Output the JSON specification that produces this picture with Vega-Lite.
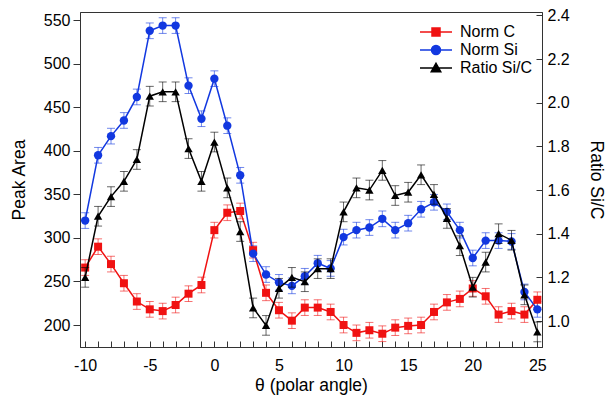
{
  "$schema": "https://vega.github.io/schema/vega-lite/v6.json",
  "width": 462,
  "height": 335,
  "autosize": {"type": "none"},
  "padding": {"left": 80, "top": 12, "right": 64, "bottom": 56},
  "background": "white",
  "config": {
    "view": {"stroke": "#333", "strokeWidth": 1},
    "font": "Liberation Sans",
    "axis": {
      "grid": false,
      "domainColor": "#333",
      "tickColor": "#333",
      "labelFont": "Liberation Sans",
      "labelFontSize": 16,
      "labelColor": "#000",
      "titleFont": "Liberation Sans",
      "titleFontSize": 17.5,
      "titleFontWeight": "normal",
      "titleColor": "#000"
    }
  },
  "datasets": {
    "d": [
      {"theta": -10, "series": "Norm C", "value": 266, "err": 9},
      {"theta": -9, "series": "Norm C", "value": 290, "err": 9},
      {"theta": -8, "series": "Norm C", "value": 270, "err": 9},
      {"theta": -7, "series": "Norm C", "value": 248, "err": 9},
      {"theta": -6, "series": "Norm C", "value": 227, "err": 9},
      {"theta": -5, "series": "Norm C", "value": 218, "err": 9},
      {"theta": -4, "series": "Norm C", "value": 216, "err": 9},
      {"theta": -3, "series": "Norm C", "value": 223, "err": 9},
      {"theta": -2, "series": "Norm C", "value": 236, "err": 9},
      {"theta": -1, "series": "Norm C", "value": 246, "err": 9},
      {"theta": 0, "series": "Norm C", "value": 309, "err": 9},
      {"theta": 1, "series": "Norm C", "value": 329, "err": 9},
      {"theta": 2, "series": "Norm C", "value": 331, "err": 9},
      {"theta": 3, "series": "Norm C", "value": 286, "err": 9},
      {"theta": 4, "series": "Norm C", "value": 237, "err": 9},
      {"theta": 5, "series": "Norm C", "value": 217, "err": 9},
      {"theta": 6, "series": "Norm C", "value": 205, "err": 9},
      {"theta": 7, "series": "Norm C", "value": 220, "err": 9},
      {"theta": 8, "series": "Norm C", "value": 220, "err": 9},
      {"theta": 9, "series": "Norm C", "value": 215, "err": 9},
      {"theta": 10, "series": "Norm C", "value": 200, "err": 9},
      {"theta": 11, "series": "Norm C", "value": 191, "err": 9},
      {"theta": 12, "series": "Norm C", "value": 194, "err": 9},
      {"theta": 13, "series": "Norm C", "value": 190, "err": 9},
      {"theta": 14, "series": "Norm C", "value": 197, "err": 9},
      {"theta": 15, "series": "Norm C", "value": 199, "err": 9},
      {"theta": 16, "series": "Norm C", "value": 200, "err": 9},
      {"theta": 17, "series": "Norm C", "value": 215, "err": 9},
      {"theta": 18, "series": "Norm C", "value": 226, "err": 9},
      {"theta": 19, "series": "Norm C", "value": 230, "err": 9},
      {"theta": 20, "series": "Norm C", "value": 242, "err": 9},
      {"theta": 21, "series": "Norm C", "value": 233, "err": 9},
      {"theta": 22, "series": "Norm C", "value": 212, "err": 9},
      {"theta": 23, "series": "Norm C", "value": 216, "err": 9},
      {"theta": 24, "series": "Norm C", "value": 212, "err": 9},
      {"theta": 25, "series": "Norm C", "value": 229, "err": 9},
      {"theta": -10, "series": "Norm Si", "value": 320, "err": 9},
      {"theta": -9, "series": "Norm Si", "value": 395, "err": 9},
      {"theta": -8, "series": "Norm Si", "value": 417, "err": 9},
      {"theta": -7, "series": "Norm Si", "value": 435, "err": 9},
      {"theta": -6, "series": "Norm Si", "value": 462, "err": 9},
      {"theta": -5, "series": "Norm Si", "value": 538, "err": 9},
      {"theta": -4, "series": "Norm Si", "value": 544, "err": 9},
      {"theta": -3, "series": "Norm Si", "value": 544, "err": 9},
      {"theta": -2, "series": "Norm Si", "value": 475, "err": 9},
      {"theta": -1, "series": "Norm Si", "value": 437, "err": 9},
      {"theta": 0, "series": "Norm Si", "value": 483, "err": 9},
      {"theta": 1, "series": "Norm Si", "value": 429, "err": 9},
      {"theta": 2, "series": "Norm Si", "value": 372, "err": 9},
      {"theta": 3, "series": "Norm Si", "value": 282, "err": 9},
      {"theta": 4, "series": "Norm Si", "value": 258, "err": 9},
      {"theta": 5, "series": "Norm Si", "value": 249, "err": 9},
      {"theta": 6, "series": "Norm Si", "value": 245, "err": 9},
      {"theta": 7, "series": "Norm Si", "value": 256, "err": 9},
      {"theta": 8, "series": "Norm Si", "value": 271, "err": 9},
      {"theta": 9, "series": "Norm Si", "value": 265, "err": 9},
      {"theta": 10, "series": "Norm Si", "value": 301, "err": 9},
      {"theta": 11, "series": "Norm Si", "value": 309, "err": 9},
      {"theta": 12, "series": "Norm Si", "value": 312, "err": 9},
      {"theta": 13, "series": "Norm Si", "value": 322, "err": 9},
      {"theta": 14, "series": "Norm Si", "value": 309, "err": 9},
      {"theta": 15, "series": "Norm Si", "value": 317, "err": 9},
      {"theta": 16, "series": "Norm Si", "value": 333, "err": 9},
      {"theta": 17, "series": "Norm Si", "value": 341, "err": 9},
      {"theta": 18, "series": "Norm Si", "value": 330, "err": 9},
      {"theta": 19, "series": "Norm Si", "value": 309, "err": 9},
      {"theta": 20, "series": "Norm Si", "value": 277, "err": 9},
      {"theta": 21, "series": "Norm Si", "value": 297, "err": 9},
      {"theta": 22, "series": "Norm Si", "value": 297, "err": 9},
      {"theta": 23, "series": "Norm Si", "value": 296, "err": 9},
      {"theta": 24, "series": "Norm Si", "value": 238, "err": 9},
      {"theta": 25, "series": "Norm Si", "value": 218, "err": 9},
      {"theta": -10, "series": "Ratio Si/C", "value": 1.2, "err": 0.045},
      {"theta": -9, "series": "Ratio Si/C", "value": 1.48, "err": 0.045},
      {"theta": -8, "series": "Ratio Si/C", "value": 1.57, "err": 0.045},
      {"theta": -7, "series": "Ratio Si/C", "value": 1.64, "err": 0.045},
      {"theta": -6, "series": "Ratio Si/C", "value": 1.74, "err": 0.045},
      {"theta": -5, "series": "Ratio Si/C", "value": 2.03, "err": 0.045},
      {"theta": -4, "series": "Ratio Si/C", "value": 2.05, "err": 0.045},
      {"theta": -3, "series": "Ratio Si/C", "value": 2.05, "err": 0.045},
      {"theta": -2, "series": "Ratio Si/C", "value": 1.79, "err": 0.045},
      {"theta": -1, "series": "Ratio Si/C", "value": 1.64, "err": 0.045},
      {"theta": 0, "series": "Ratio Si/C", "value": 1.82, "err": 0.045},
      {"theta": 1, "series": "Ratio Si/C", "value": 1.61, "err": 0.045},
      {"theta": 2, "series": "Ratio Si/C", "value": 1.41, "err": 0.045},
      {"theta": 3, "series": "Ratio Si/C", "value": 1.06, "err": 0.045},
      {"theta": 4, "series": "Ratio Si/C", "value": 0.98, "err": 0.045},
      {"theta": 5, "series": "Ratio Si/C", "value": 1.15, "err": 0.045},
      {"theta": 6, "series": "Ratio Si/C", "value": 1.2, "err": 0.045},
      {"theta": 7, "series": "Ratio Si/C", "value": 1.18, "err": 0.045},
      {"theta": 8, "series": "Ratio Si/C", "value": 1.24, "err": 0.045},
      {"theta": 9, "series": "Ratio Si/C", "value": 1.24, "err": 0.045},
      {"theta": 10, "series": "Ratio Si/C", "value": 1.5, "err": 0.045},
      {"theta": 11, "series": "Ratio Si/C", "value": 1.61, "err": 0.045},
      {"theta": 12, "series": "Ratio Si/C", "value": 1.6, "err": 0.045},
      {"theta": 13, "series": "Ratio Si/C", "value": 1.69, "err": 0.045},
      {"theta": 14, "series": "Ratio Si/C", "value": 1.575, "err": 0.045},
      {"theta": 15, "series": "Ratio Si/C", "value": 1.59, "err": 0.045},
      {"theta": 16, "series": "Ratio Si/C", "value": 1.67, "err": 0.045},
      {"theta": 17, "series": "Ratio Si/C", "value": 1.58, "err": 0.045},
      {"theta": 18, "series": "Ratio Si/C", "value": 1.47, "err": 0.045},
      {"theta": 19, "series": "Ratio Si/C", "value": 1.345, "err": 0.045},
      {"theta": 20, "series": "Ratio Si/C", "value": 1.155, "err": 0.045},
      {"theta": 21, "series": "Ratio Si/C", "value": 1.27, "err": 0.045},
      {"theta": 22, "series": "Ratio Si/C", "value": 1.4, "err": 0.045},
      {"theta": 23, "series": "Ratio Si/C", "value": 1.37, "err": 0.045},
      {"theta": 24, "series": "Ratio Si/C", "value": 1.12, "err": 0.045},
      {"theta": 25, "series": "Ratio Si/C", "value": 0.95, "err": 0.045}
    ]
  },
  "data": {"name": "d"},
  "encoding": {
    "x": {
      "field": "theta",
      "type": "quantitative",
      "scale": {"domain": [-10.4, 25.36], "nice": false, "zero": false},
      "axis": {
        "title": "θ (polar angle)",
        "values": [-10, -9, -8, -7, -6, -5, -4, -3, -2, -1, 0, 1, 2, 3, 4, 5, 6, 7, 8, 9, 10, 11, 12, 13, 14, 15, 16, 17, 18, 19, 20, 21, 22, 23, 24, 25],
        "labelExpr": "datum.value % 5 === 0 ? '' + datum.value : ''",
        "tickSize": -6,
        "labelPadding": 16,
        "titlePadding": 3,
        "labelFlush": false
      }
    },
    "color": {
      "field": "series",
      "type": "nominal",
      "scale": {"domain": ["Norm C", "Norm Si", "Ratio Si/C"], "range": ["#f01212", "#1238e0", "#000000"]},
      "legend": {
        "title": null,
        "orient": "none",
        "legendX": 348,
        "legendY": 12,
        "padding": 0,
        "labelFontSize": 16,
        "labelFont": "Liberation Sans",
        "labelColor": "#000",
        "symbolSize": 100,
        "labelOffset": 16,
        "rowPadding": 2,
        "encode": {
          "symbols": {
            "update": {
              "shape": {"signal": "datum.value === 'Norm C' ? 'M-3.2,0H3.2M-0.8,-0.8H0.8V0.8H-0.8Z' : datum.value === 'Norm Si' ? 'M-3.2,0H3.2M0.9,0A0.9,0.9,0,1,1,-0.9,0A0.9,0.9,0,1,1,0.9,0Z' : 'M-3.2,0H3.2M0,-0.95L0.95,0.75H-0.95Z'"},
              "stroke": {"signal": "scale('color', datum.value)"},
              "fill": {"signal": "scale('color', datum.value)"},
              "strokeWidth": {"value": 1.5},
              "opacity": {"value": 1}
            }
          }
        }
      }
    }
  },
  "layer": [
    {
      "transform": [{"filter": "datum.series !== 'Ratio Si/C'"}],
      "encoding": {
        "y": {
          "field": "value",
          "type": "quantitative",
          "scale": {"domain": [174.75, 559.6], "nice": false, "zero": false},
          "axis": {"title": "Peak Area", "orient": "left", "values": [200, 250, 300, 350, 400, 450, 500, 550], "tickSize": 7, "labelPadding": 3, "titlePadding": 15}
        }
      },
      "layer": [
        {
          "mark": {"type": "errorbar", "ticks": {"size": 8, "opacity": 0.6}, "rule": {"opacity": 0.6}},
          "encoding": {"yError": {"field": "err"}}
        },
        {"mark": {"type": "line", "strokeWidth": 1.5}},
        {
          "transform": [{"filter": "datum.series === 'Norm C'"}],
          "mark": {"type": "point", "shape": "square", "filled": true, "size": 64, "opacity": 1}
        },
        {
          "transform": [{"filter": "datum.series === 'Norm Si'"}],
          "mark": {"type": "point", "shape": "circle", "filled": true, "size": 70, "opacity": 1}
        }
      ]
    },
    {
      "transform": [{"filter": "datum.series === 'Ratio Si/C'"}],
      "encoding": {
        "y": {
          "field": "value",
          "type": "quantitative",
          "scale": {"domain": [0.881, 2.4156], "nice": false, "zero": false},
          "axis": {"title": "Ratio Si/C", "orient": "right", "values": [1.0, 1.2, 1.4, 1.6, 1.8, 2.0, 2.2, 2.4], "format": ".1f", "tickSize": -6, "labelPadding": 11, "titlePadding": 17}
        }
      },
      "layer": [
        {
          "mark": {"type": "errorbar", "ticks": {"size": 8, "opacity": 0.6}, "rule": {"opacity": 0.6}},
          "encoding": {"yError": {"field": "err"}}
        },
        {"mark": {"type": "line", "strokeWidth": 1.5}},
        {"mark": {"type": "point", "shape": "triangle-up", "filled": true, "size": 70, "opacity": 1}}
      ]
    }
  ],
  "resolve": {"scale": {"y": "independent"}}
}
